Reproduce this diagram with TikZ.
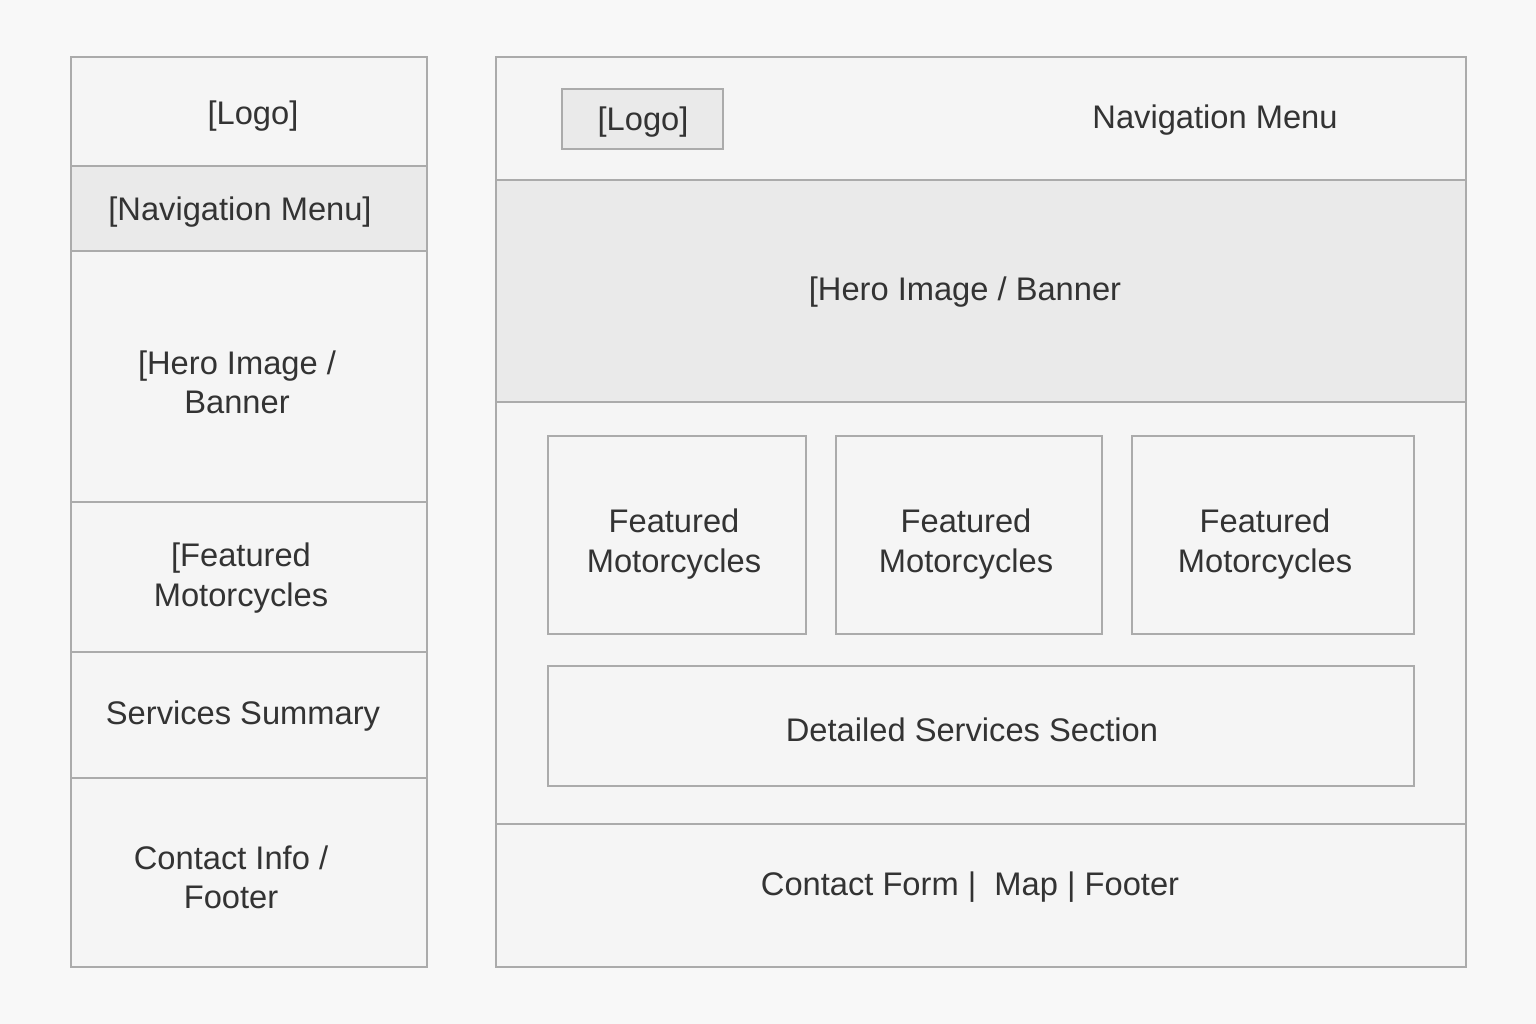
\documentclass[tikz,border=0pt]{standalone}
\usepackage{fontspec}
\setmainfont{Liberation Sans}
\definecolor{pagebg}{HTML}{F8F8F8}
\definecolor{boxbg}{HTML}{F5F5F5}
\definecolor{graybg}{HTML}{EAEAEA}
\definecolor{edge}{HTML}{ABABAB}
\definecolor{ink}{HTML}{333333}
\tikzset{
  panel/.style={draw=edge, line width=1.5pt, fill=boxbg},
  shaded/.style={draw=edge, line width=1.5pt, fill=graybg},
  divider/.style={draw=edge, line width=1.5pt},
  lbl/.style={text=ink, font=\fontsize{24.5}{29.5}\selectfont, align=center, inner sep=0pt},
}
\begin{document}
\begin{tikzpicture}[x=0.75pt, y=-0.75pt]
\fill[pagebg] (0,0) rectangle (1536,1024);
\useasboundingbox (0,0) rectangle (1536,1024);
% left column
\path[panel] (71,57) rectangle (427,967);
\path[shaded] (71,166) rectangle (427,251);
\draw[divider] (71,502) -- (427,502);
\draw[divider] (71,652) -- (427,652);
\draw[divider] (71,778) -- (427,778);
\node[lbl] (llogo) at (253,116) {[Logo]};
\node[lbl] (lnav) at (240,212) {[Navigation Menu]};
\node[lbl] (lhero) at (237,382) {[Hero Image /\\Banner};
\node[lbl] (lfeat) at (241,578) {[Featured\\Motorcycles};
\node[lbl] (lserv) at (243,716) {Services Summary};
\node[lbl] (lcont) at (231,877) {Contact Info /\\Footer};
% right column
\path[panel] (496,57) rectangle (1466,967);
\path[shaded] (496,180) rectangle (1466,402);
\draw[divider] (496,824) -- (1466,824);
\path[shaded] (562,89) rectangle (723,149);
\node[lbl] (rlogo) at (643,122) {[Logo]};
\node[lbl] (rnav) at (1215,120) {Navigation Menu};
\node[lbl] (rhero) at (965,292) {[Hero Image / Banner};
\path[panel] (548,436) rectangle (806,634);
\path[panel] (836,436) rectangle (1102,634);
\path[panel] (1132,436) rectangle (1414,634);
\node[lbl] (f1) at (674,544) {Featured\\Motorcycles};
\node[lbl] (f2) at (966,544) {Featured\\Motorcycles};
\node[lbl] (f3) at (1265,544) {Featured\\Motorcycles};
\path[panel] (548,666) rectangle (1414,786);
\node[lbl] (dserv) at (972,730) {Detailed Services Section};
\node[lbl] (rcont) at (970,887) {Contact Form |\ \ Map | Footer};
\end{tikzpicture}
\end{document}
